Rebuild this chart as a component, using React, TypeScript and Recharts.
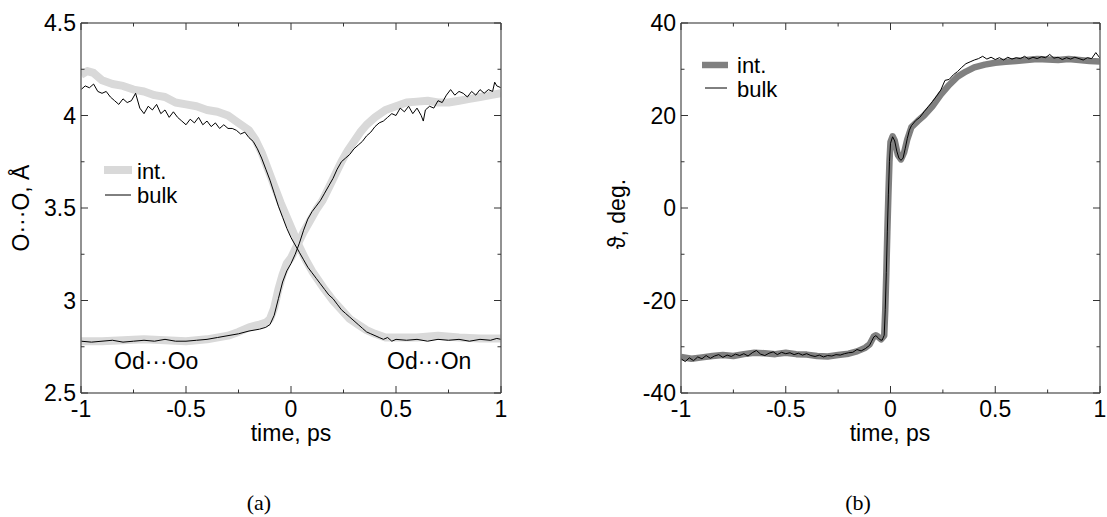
import React from "react"
import { LineChart, Line, XAxis, YAxis } from "recharts"

// panel (a): O···O distances, two pairs (int. = thick light gray, bulk = thin black)
const tTicks = [-1, -0.75, -0.5, -0.25, 0, 0.25, 0.5, 0.75, 1]
const aTicks = [2.5, 2.75, 3, 3.25, 3.5, 3.75, 4, 4.25, 4.5]
const bTicks = [-40, -30, -20, -10, 0, 10, 20, 30, 40]

const bulkOo = [
  { t: -1, v: 4.14 }, { t: -0.98, v: 4.16 }, { t: -0.96, v: 4.15 }, { t: -0.94, v: 4.17 },
  { t: -0.92, v: 4.13 }, { t: -0.9, v: 4.12 }, { t: -0.88, v: 4.13 }, { t: -0.86, v: 4.1 },
  { t: -0.84, v: 4.08 }, { t: -0.82, v: 4.06 }, { t: -0.8, v: 4.09 }, { t: -0.78, v: 4.07 },
  { t: -0.76, v: 4.08 }, { t: -0.74, v: 4.12 }, { t: -0.72, v: 4.04 }, { t: -0.7, v: 4.01 },
  { t: -0.68, v: 4.05 }, { t: -0.66, v: 4.03 }, { t: -0.64, v: 4.06 }, { t: -0.62, v: 4.01 },
  { t: -0.6, v: 4.03 }, { t: -0.58, v: 3.99 }, { t: -0.56, v: 4.02 }, { t: -0.54, v: 3.99 },
  { t: -0.52, v: 3.97 }, { t: -0.5, v: 3.95 }, { t: -0.48, v: 3.98 }, { t: -0.46, v: 3.96 },
  { t: -0.44, v: 3.99 }, { t: -0.42, v: 3.95 }, { t: -0.4, v: 3.97 }, { t: -0.38, v: 3.94 },
  { t: -0.36, v: 3.96 }, { t: -0.34, v: 3.93 }, { t: -0.32, v: 3.95 }, { t: -0.3, v: 3.93 },
  { t: -0.28, v: 3.93 }, { t: -0.26, v: 3.92 }, { t: -0.24, v: 3.9 }, { t: -0.22, v: 3.91 },
  { t: -0.2, v: 3.88 }, { t: -0.18, v: 3.86 }, { t: -0.16, v: 3.82 }, { t: -0.14, v: 3.77 },
  { t: -0.12, v: 3.71 }, { t: -0.1, v: 3.65 }, { t: -0.08, v: 3.58 }, { t: -0.06, v: 3.51 },
  { t: -0.04, v: 3.45 }, { t: -0.02, v: 3.39 }, { t: 0, v: 3.34 }, { t: 0.02, v: 3.3 },
  { t: 0.04, v: 3.26 }, { t: 0.06, v: 3.22 }, { t: 0.08, v: 3.18 }, { t: 0.1, v: 3.15 },
  { t: 0.12, v: 3.12 }, { t: 0.14, v: 3.09 }, { t: 0.16, v: 3.06 }, { t: 0.18, v: 3.03 },
  { t: 0.2, v: 3.01 }, { t: 0.22, v: 2.98 }, { t: 0.24, v: 2.95 }, { t: 0.26, v: 2.93 },
  { t: 0.28, v: 2.91 }, { t: 0.3, v: 2.89 }, { t: 0.32, v: 2.87 }, { t: 0.34, v: 2.85 },
  { t: 0.36, v: 2.83 }, { t: 0.38, v: 2.82 }, { t: 0.4, v: 2.81 }, { t: 0.42, v: 2.8 },
  { t: 0.44, v: 2.79 }, { t: 0.46, v: 2.8 }, { t: 0.48, v: 2.78 }, { t: 0.5, v: 2.79 },
  { t: 0.55, v: 2.785 }, { t: 0.6, v: 2.79 }, { t: 0.65, v: 2.78 }, { t: 0.7, v: 2.79 },
  { t: 0.75, v: 2.785 }, { t: 0.8, v: 2.79 }, { t: 0.85, v: 2.78 }, { t: 0.9, v: 2.79 },
  { t: 0.95, v: 2.785 }, { t: 0.98, v: 2.795 }, { t: 1, v: 2.79 },
]

const bulkOn = [
  { t: -1, v: 2.78 }, { t: -0.95, v: 2.775 }, { t: -0.9, v: 2.78 }, { t: -0.85, v: 2.785 },
  { t: -0.8, v: 2.775 }, { t: -0.75, v: 2.78 }, { t: -0.7, v: 2.785 }, { t: -0.65, v: 2.78 },
  { t: -0.6, v: 2.79 }, { t: -0.55, v: 2.78 }, { t: -0.5, v: 2.78 }, { t: -0.45, v: 2.785 },
  { t: -0.4, v: 2.79 }, { t: -0.35, v: 2.8 }, { t: -0.3, v: 2.81 }, { t: -0.25, v: 2.82 },
  { t: -0.2, v: 2.835 }, { t: -0.15, v: 2.845 }, { t: -0.12, v: 2.855 }, { t: -0.1, v: 2.87 },
  { t: -0.08, v: 2.92 }, { t: -0.06, v: 3.01 }, { t: -0.04, v: 3.1 }, { t: -0.02, v: 3.16 },
  { t: 0, v: 3.2 }, { t: 0.02, v: 3.25 }, { t: 0.04, v: 3.31 }, { t: 0.06, v: 3.38 },
  { t: 0.08, v: 3.44 }, { t: 0.1, v: 3.48 }, { t: 0.12, v: 3.51 }, { t: 0.14, v: 3.54 },
  { t: 0.16, v: 3.58 }, { t: 0.18, v: 3.62 }, { t: 0.2, v: 3.66 }, { t: 0.22, v: 3.71 },
  { t: 0.24, v: 3.75 }, { t: 0.26, v: 3.77 }, { t: 0.28, v: 3.79 }, { t: 0.3, v: 3.82 },
  { t: 0.32, v: 3.84 }, { t: 0.34, v: 3.86 }, { t: 0.36, v: 3.89 }, { t: 0.38, v: 3.91 },
  { t: 0.4, v: 3.94 }, { t: 0.42, v: 3.96 }, { t: 0.44, v: 3.97 }, { t: 0.46, v: 3.99 },
  { t: 0.48, v: 4.01 }, { t: 0.5, v: 4.0 }, { t: 0.52, v: 4.04 }, { t: 0.54, v: 4.02 },
  { t: 0.56, v: 4.05 }, { t: 0.58, v: 4.01 }, { t: 0.6, v: 4.04 }, { t: 0.62, v: 4.0 },
  { t: 0.63, v: 3.97 }, { t: 0.64, v: 4.03 }, { t: 0.66, v: 4.05 }, { t: 0.68, v: 4.04 },
  { t: 0.7, v: 4.08 }, { t: 0.72, v: 4.07 }, { t: 0.74, v: 4.11 }, { t: 0.76, v: 4.14 },
  { t: 0.78, v: 4.11 }, { t: 0.8, v: 4.13 }, { t: 0.82, v: 4.12 }, { t: 0.84, v: 4.1 },
  { t: 0.86, v: 4.13 }, { t: 0.88, v: 4.11 }, { t: 0.9, v: 4.14 }, { t: 0.92, v: 4.12 },
  { t: 0.94, v: 4.14 }, { t: 0.96, v: 4.13 }, { t: 0.97, v: 4.18 }, { t: 0.98, v: 4.16 },
  { t: 1, v: 4.15 },
]

const intOo = [
  { t: -1, v: 4.22 }, { t: -0.97, v: 4.24 }, { t: -0.94, v: 4.23 }, { t: -0.9, v: 4.19 },
  { t: -0.85, v: 4.17 }, { t: -0.8, v: 4.16 }, { t: -0.75, v: 4.14 }, { t: -0.7, v: 4.13 },
  { t: -0.65, v: 4.11 }, { t: -0.6, v: 4.1 }, { t: -0.55, v: 4.07 }, { t: -0.5, v: 4.06 },
  { t: -0.45, v: 4.05 }, { t: -0.4, v: 4.03 }, { t: -0.35, v: 4.02 }, { t: -0.3, v: 4.0 },
  { t: -0.25, v: 3.96 }, { t: -0.2, v: 3.92 }, { t: -0.17, v: 3.87 }, { t: -0.14, v: 3.8 },
  { t: -0.11, v: 3.71 }, { t: -0.08, v: 3.62 }, { t: -0.05, v: 3.53 }, { t: -0.02, v: 3.45 },
  { t: 0.01, v: 3.37 }, { t: 0.04, v: 3.29 }, { t: 0.07, v: 3.22 }, { t: 0.1, v: 3.16 },
  { t: 0.13, v: 3.11 }, { t: 0.16, v: 3.06 }, { t: 0.2, v: 3.0 }, { t: 0.24, v: 2.95 },
  { t: 0.28, v: 2.9 }, { t: 0.32, v: 2.87 }, { t: 0.36, v: 2.84 }, { t: 0.4, v: 2.82 },
  { t: 0.45, v: 2.8 }, { t: 0.5, v: 2.8 }, { t: 0.6, v: 2.8 }, { t: 0.7, v: 2.81 },
  { t: 0.8, v: 2.8 }, { t: 0.9, v: 2.795 }, { t: 1, v: 2.795 },
]

const intOn = [
  { t: -1, v: 2.78 }, { t: -0.9, v: 2.78 }, { t: -0.8, v: 2.785 }, { t: -0.7, v: 2.79 },
  { t: -0.6, v: 2.785 }, { t: -0.5, v: 2.78 }, { t: -0.4, v: 2.79 }, { t: -0.3, v: 2.81 },
  { t: -0.25, v: 2.83 }, { t: -0.2, v: 2.855 }, { t: -0.15, v: 2.87 }, { t: -0.12, v: 2.88 },
  { t: -0.1, v: 2.9 }, { t: -0.08, v: 2.96 }, { t: -0.06, v: 3.06 }, { t: -0.04, v: 3.14 },
  { t: -0.02, v: 3.2 }, { t: 0, v: 3.23 }, { t: 0.03, v: 3.3 }, { t: 0.06, v: 3.37 },
  { t: 0.09, v: 3.43 }, { t: 0.12, v: 3.49 }, { t: 0.15, v: 3.54 }, { t: 0.18, v: 3.61 },
  { t: 0.21, v: 3.68 }, { t: 0.24, v: 3.75 }, { t: 0.27, v: 3.81 }, { t: 0.3, v: 3.86 },
  { t: 0.33, v: 3.91 }, { t: 0.36, v: 3.95 }, { t: 0.4, v: 3.99 }, { t: 0.45, v: 4.03 },
  { t: 0.5, v: 4.05 }, { t: 0.55, v: 4.07 }, { t: 0.6, v: 4.075 }, { t: 0.65, v: 4.08 },
  { t: 0.7, v: 4.07 }, { t: 0.75, v: 4.07 }, { t: 0.8, v: 4.08 }, { t: 0.85, v: 4.09 },
  { t: 0.9, v: 4.1 }, { t: 0.95, v: 4.11 }, { t: 1, v: 4.12 },
]

// panel (b): angle, deg.
const bulkTheta = [
  { t: -1, v: -32.6 }, { t: -0.98, v: -33.2 }, { t: -0.96, v: -32.4 }, { t: -0.94, v: -33.0 },
  { t: -0.92, v: -32.2 }, { t: -0.9, v: -32.6 }, { t: -0.88, v: -31.9 }, { t: -0.86, v: -32.5 },
  { t: -0.84, v: -32.0 }, { t: -0.82, v: -31.7 }, { t: -0.8, v: -32.3 }, { t: -0.78, v: -31.8 },
  { t: -0.76, v: -32.1 }, { t: -0.74, v: -31.6 }, { t: -0.72, v: -31.9 }, { t: -0.7, v: -31.5 },
  { t: -0.68, v: -32.0 }, { t: -0.66, v: -31.3 }, { t: -0.64, v: -30.8 }, { t: -0.62, v: -31.6 },
  { t: -0.6, v: -31.9 }, { t: -0.58, v: -31.4 }, { t: -0.56, v: -31.1 }, { t: -0.54, v: -31.7 },
  { t: -0.52, v: -31.2 }, { t: -0.5, v: -31.5 }, { t: -0.48, v: -31.3 }, { t: -0.46, v: -31.7 },
  { t: -0.44, v: -31.4 }, { t: -0.42, v: -31.8 }, { t: -0.4, v: -31.5 }, { t: -0.38, v: -31.9 },
  { t: -0.36, v: -32.1 }, { t: -0.34, v: -31.8 }, { t: -0.32, v: -32.2 }, { t: -0.3, v: -31.9 },
  { t: -0.28, v: -32.0 }, { t: -0.26, v: -31.7 }, { t: -0.24, v: -31.8 }, { t: -0.22, v: -31.5 },
  { t: -0.2, v: -31.3 }, { t: -0.18, v: -31.2 }, { t: -0.16, v: -30.6 }, { t: -0.14, v: -30.9 },
  { t: -0.12, v: -30.4 }, { t: -0.1, v: -29.7 }, { t: -0.09, v: -28.8 }, { t: -0.08, v: -27.9 },
  { t: -0.07, v: -27.6 }, { t: -0.06, v: -28.0 }, { t: -0.05, v: -28.5 }, { t: -0.04, v: -28.6 },
  { t: -0.03, v: -27.5 }, { t: -0.025, v: -22 }, { t: -0.02, v: -14 }, { t: -0.015, v: -5 },
  { t: -0.01, v: 3 }, { t: -0.005, v: 10 }, { t: 0, v: 14 }, { t: 0.01, v: 15.4 },
  { t: 0.02, v: 14.5 }, { t: 0.03, v: 12.3 }, { t: 0.04, v: 10.8 }, { t: 0.05, v: 10.3 },
  { t: 0.06, v: 10.8 }, { t: 0.07, v: 12.8 }, { t: 0.08, v: 15.0 }, { t: 0.09, v: 16.8 },
  { t: 0.1, v: 17.8 }, { t: 0.12, v: 18.9 }, { t: 0.14, v: 19.6 }, { t: 0.16, v: 20.8 },
  { t: 0.18, v: 21.9 }, { t: 0.2, v: 23.0 }, { t: 0.22, v: 24.2 }, { t: 0.24, v: 25.5 },
  { t: 0.26, v: 27.6 }, { t: 0.28, v: 27.8 }, { t: 0.3, v: 28.8 }, { t: 0.32, v: 29.5 },
  { t: 0.34, v: 30.4 }, { t: 0.36, v: 31.2 }, { t: 0.38, v: 31.6 }, { t: 0.4, v: 32.0 },
  { t: 0.42, v: 32.3 }, { t: 0.44, v: 32.8 }, { t: 0.46, v: 32.2 }, { t: 0.48, v: 32.6 },
  { t: 0.5, v: 32.1 }, { t: 0.52, v: 32.5 }, { t: 0.54, v: 32.0 }, { t: 0.56, v: 32.6 },
  { t: 0.58, v: 32.2 }, { t: 0.6, v: 32.5 }, { t: 0.62, v: 32.3 }, { t: 0.64, v: 32.8 },
  { t: 0.66, v: 32.2 }, { t: 0.68, v: 32.6 }, { t: 0.7, v: 32.3 }, { t: 0.72, v: 32.7 },
  { t: 0.74, v: 32.5 }, { t: 0.76, v: 33.2 }, { t: 0.78, v: 32.4 }, { t: 0.8, v: 32.6 },
  { t: 0.82, v: 32.1 }, { t: 0.84, v: 32.5 }, { t: 0.86, v: 32.2 }, { t: 0.88, v: 32.6 },
  { t: 0.9, v: 32.3 }, { t: 0.92, v: 32.0 }, { t: 0.94, v: 32.5 }, { t: 0.96, v: 32.3 },
  { t: 0.98, v: 33.6 }, { t: 1, v: 32.4 },
]

const intTheta = [
  { t: -1, v: -32.2 }, { t: -0.95, v: -32.6 }, { t: -0.9, v: -32.3 }, { t: -0.85, v: -32.0 },
  { t: -0.8, v: -31.8 }, { t: -0.75, v: -32.0 }, { t: -0.7, v: -31.6 }, { t: -0.65, v: -31.3 },
  { t: -0.6, v: -31.4 }, { t: -0.55, v: -31.6 }, { t: -0.5, v: -31.3 }, { t: -0.45, v: -31.6 },
  { t: -0.4, v: -31.7 }, { t: -0.35, v: -32.0 }, { t: -0.3, v: -32.1 }, { t: -0.25, v: -31.8 },
  { t: -0.2, v: -31.5 }, { t: -0.16, v: -31.0 }, { t: -0.12, v: -30.2 }, { t: -0.1, v: -29.5 },
  { t: -0.08, v: -27.8 }, { t: -0.07, v: -27.5 }, { t: -0.06, v: -27.8 }, { t: -0.045, v: -28.4 },
  { t: -0.03, v: -27.6 }, { t: -0.025, v: -22 }, { t: -0.02, v: -14 }, { t: -0.015, v: -5 },
  { t: -0.01, v: 3 }, { t: -0.005, v: 10 }, { t: 0, v: 14.3 }, { t: 0.01, v: 15.5 },
  { t: 0.02, v: 14.6 }, { t: 0.035, v: 11.5 }, { t: 0.05, v: 10.5 }, { t: 0.065, v: 12.0 },
  { t: 0.08, v: 14.8 }, { t: 0.1, v: 17.5 }, { t: 0.13, v: 18.8 }, { t: 0.16, v: 20.0 },
  { t: 0.2, v: 22.0 }, { t: 0.24, v: 24.5 }, { t: 0.28, v: 26.6 }, { t: 0.32, v: 28.4 },
  { t: 0.36, v: 29.5 }, { t: 0.4, v: 30.4 }, { t: 0.45, v: 31.0 }, { t: 0.5, v: 31.4 },
  { t: 0.55, v: 31.6 }, { t: 0.6, v: 31.8 }, { t: 0.65, v: 32.0 }, { t: 0.7, v: 32.2 },
  { t: 0.75, v: 32.1 }, { t: 0.8, v: 32.0 }, { t: 0.85, v: 32.2 }, { t: 0.9, v: 32.0 },
  { t: 0.95, v: 31.8 }, { t: 1, v: 31.7 },
]

const FONT = "'Liberation Sans', Arial, sans-serif"
const FS = 23
const AXIS = "#6e6e6e"

const isMultiple = (v: number, step: number) => Math.abs(v / step - Math.round(v / step)) < 1e-9

// inward ticks, long on majors, label only on majors (bottom / left)
function makeTick(side: "bottom" | "top" | "left" | "right", step: number) {
  return (props: any) => {
    const { x, y, payload } = props
    const v = payload.value as number
    const major = isMultiple(v, step)
    const len = major ? 7 : 3.5
    if (side === "bottom" || side === "top") {
      const dir = side === "bottom" ? -1 : 1
      return (
        <g>
          <line x1={x} y1={y} x2={x} y2={y + dir * len} stroke="#333" strokeWidth={1} />
          {side === "bottom" && major && (
            <text x={x} y={y + 24} textAnchor="middle" fontSize={FS} fontFamily={FONT} fill="#000">
              {String(v)}
            </text>
          )}
        </g>
      )
    }
    const dir = side === "left" ? 1 : -1
    return (
      <g>
        <line x1={x} y1={y} x2={x + dir * len} y2={y} stroke="#333" strokeWidth={1} />
        {side === "left" && major && (
          <text x={x - 5} y={y + 8} textAnchor="end" fontSize={FS} fontFamily={FONT} fill="#000">
            {String(v)}
          </text>
        )}
      </g>
    )
  }
}

const txt = { fontFamily: FONT, fontSize: FS, fill: "#000" }
const legendTxt = { fontFamily: FONT, fontSize: 22, fill: "#000" }
const axisStyle = { stroke: AXIS, strokeWidth: 1.5 }

function Axes({ yDomain, yTicks, yStep }: { yDomain: [number, number]; yTicks: number[]; yStep: number }) {
  return null
}

export default function App() {
  return (
    <div style={{ position: "absolute", left: 0, top: 0, width: 1107, height: 517, background: "#fff" }}>
      <div style={{ position: "absolute", left: 0, top: 0 }}>
        <LineChart width={560} height={517} margin={{ top: 22, right: 58, bottom: 123, left: 80 }}>
          <XAxis xAxisId="b" dataKey="t" type="number" domain={[-1, 1]} ticks={tTicks} interval={0}
            allowDataOverflow height={1} tickSize={0} tickMargin={0} tickLine={false}
            axisLine={axisStyle} tick={makeTick("bottom", 0.5)} />
          <XAxis xAxisId="t" orientation="top" dataKey="t" type="number" domain={[-1, 1]} ticks={tTicks} interval={0}
            allowDataOverflow height={1} tickSize={0} tickMargin={0} tickLine={false}
            axisLine={axisStyle} tick={makeTick("top", 0.5)} />
          <YAxis yAxisId="l" type="number" domain={[2.5, 4.5]} ticks={aTicks} interval={0}
            allowDataOverflow width={1} tickSize={0} tickMargin={0} tickLine={false}
            axisLine={axisStyle} tick={makeTick("left", 0.5)} />
          <YAxis yAxisId="r" orientation="right" type="number" domain={[2.5, 4.5]} ticks={aTicks} interval={0}
            allowDataOverflow width={1} tickSize={0} tickMargin={0} tickLine={false}
            axisLine={axisStyle} tick={makeTick("right", 0.5)} />
          <Line data={intOo} dataKey="v" xAxisId="b" yAxisId="l" type="linear" dot={false}
            stroke="#d9d9d9" strokeWidth={8} strokeLinejoin="round" isAnimationActive={false} />
          <Line data={intOn} dataKey="v" xAxisId="b" yAxisId="l" type="linear" dot={false}
            stroke="#d9d9d9" strokeWidth={8} strokeLinejoin="round" isAnimationActive={false} />
          <Line data={bulkOo} dataKey="v" xAxisId="b" yAxisId="l" type="linear" dot={false}
            stroke="#000" strokeWidth={1} isAnimationActive={false} />
          <Line data={bulkOn} dataKey="v" xAxisId="b" yAxisId="l" type="linear" dot={false}
            stroke="#000" strokeWidth={1} isAnimationActive={false} />
          <g>
            <line x1={104} y1={170} x2={132} y2={170} stroke="#d9d9d9" strokeWidth={8} />
            <text x={137} y={179} {...legendTxt}>int.</text>
            <line x1={105} y1={195} x2={131} y2={195} stroke="#000" strokeWidth={1} />
            <text x={137} y={203} {...legendTxt}>bulk</text>
            <text x={114} y={369} {...txt}>Od···Oo</text>
            <text x={387} y={369} {...txt}>Od···On</text>
            <text x={291} y={441} textAnchor="middle" {...txt}>time, ps</text>
            <text x={0} y={0} textAnchor="middle" transform="translate(29 208) rotate(-90)" {...txt}>O···O, Å</text>
            <text x={259} y={510} textAnchor="middle" fontFamily="'Liberation Serif', 'Times New Roman', serif" fontSize={22} fill="#000">(a)</text>
          </g>
        </LineChart>
      </div>
      <div style={{ position: "absolute", left: 560, top: 0 }}>
        <LineChart width={547} height={517} margin={{ top: 22, right: 6, bottom: 123, left: 120 }}>
          <XAxis xAxisId="b" dataKey="t" type="number" domain={[-1, 1]} ticks={tTicks} interval={0}
            allowDataOverflow height={1} tickSize={0} tickMargin={0} tickLine={false}
            axisLine={axisStyle} tick={makeTick("bottom", 0.5)} />
          <XAxis xAxisId="t" orientation="top" dataKey="t" type="number" domain={[-1, 1]} ticks={tTicks} interval={0}
            allowDataOverflow height={1} tickSize={0} tickMargin={0} tickLine={false}
            axisLine={axisStyle} tick={makeTick("top", 0.5)} />
          <YAxis yAxisId="l" type="number" domain={[-40, 40]} ticks={bTicks} interval={0}
            allowDataOverflow width={1} tickSize={0} tickMargin={0} tickLine={false}
            axisLine={axisStyle} tick={makeTick("left", 20)} />
          <YAxis yAxisId="r" orientation="right" type="number" domain={[-40, 40]} ticks={bTicks} interval={0}
            allowDataOverflow width={1} tickSize={0} tickMargin={0} tickLine={false}
            axisLine={axisStyle} tick={makeTick("right", 20)} />
          <Line data={intTheta} dataKey="v" xAxisId="b" yAxisId="l" type="linear" dot={false}
            stroke="#808080" strokeWidth={6.5} strokeLinejoin="round" isAnimationActive={false} />
          <Line data={bulkTheta} dataKey="v" xAxisId="b" yAxisId="l" type="linear" dot={false}
            stroke="#000" strokeWidth={1} isAnimationActive={false} />
          <g>
            <line x1={142} y1={65} x2={168} y2={65} stroke="#808080" strokeWidth={6.5} />
            <text x={177} y={73} {...legendTxt}>int.</text>
            <line x1={145} y1={88} x2={167} y2={88} stroke="#000" strokeWidth={1} />
            <text x={177} y={97} {...legendTxt}>bulk</text>
            <text x={330} y={441} textAnchor="middle" {...txt}>time, ps</text>
            <text x={0} y={0} textAnchor="middle" transform="translate(65 214) rotate(-90)" {...txt}>ϑ, deg.</text>
            <text x={298} y={510} textAnchor="middle" fontFamily="'Liberation Serif', 'Times New Roman', serif" fontSize={22} fill="#000">(b)</text>
          </g>
        </LineChart>
      </div>
    </div>
  )
}
